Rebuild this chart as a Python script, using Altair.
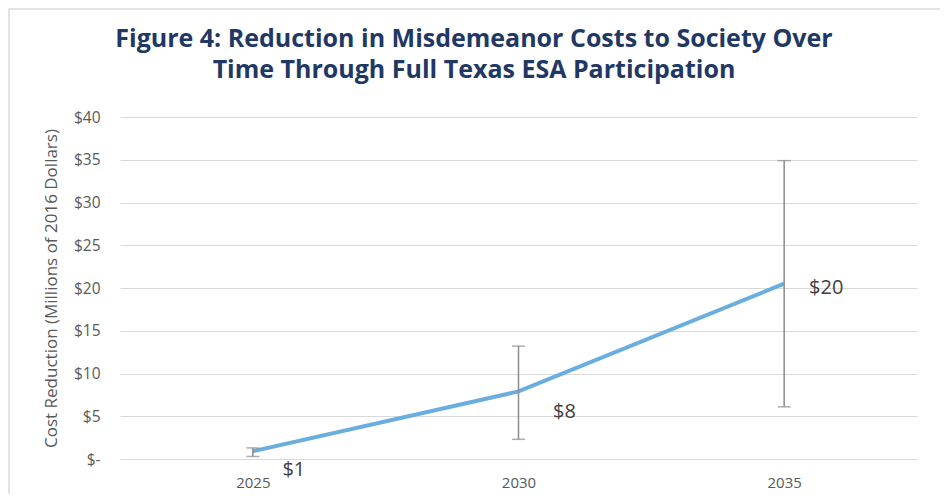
import altair as alt
import pandas as pd

years = ["2025", "2030", "2035"]
values = [0.9, 7.9, 20.5]
err_low = [0.3, 2.3, 6.1]
err_high = [1.3, 13.2, 34.9]
labels = ["$1", "$8", "$20"]
title_lines = "Figure 4: Reduction in Misdemeanor Costs to Society Over\nTime Through Full Texas ESA Participation"

df = pd.DataFrame({"year": years, "value": values, "lo": err_low, "hi": err_high, "label": labels})

x = alt.X("year:O", title=None, scale=alt.Scale(type="point", padding=0.5),
          axis=alt.Axis(labelAngle=0, labelFontSize=15, labelColor="#595959", labelFont="Open Sans",
                        domain=False, ticks=False, labelPadding=16, grid=False))
y = alt.Y("value:Q", title="Cost Reduction (Millions of 2016 Dollars)",
          scale=alt.Scale(domain=[0, 40], nice=False),
          axis=alt.Axis(values=[0, 5, 10, 15, 20, 25, 30, 35, 40],
                        labelExpr="datum.value == 0 ? '$-\u00a0\u00a0' : '$' + datum.value",
                        labelFontSize=15.5, labelColor="#595959", labelFont="Open Sans",
                        titleFontSize=17, titleColor="#595959", titleFont="Open Sans", titleFontWeight="normal",
                        titlePadding=13, labelPadding=20,
                        domain=False, ticks=False, grid=True, gridColor="#d9d9d9", gridWidth=1))

base = alt.Chart(df)

errbars = base.mark_rule(color="#8c8c8c", strokeWidth=1.5).encode(x=x, y=alt.Y("lo:Q"), y2="hi:Q")
cap_lo = base.mark_tick(color="#8c8c8c", size=13, thickness=1.5, orient="horizontal").encode(x=x, y="lo:Q")
cap_hi = base.mark_tick(color="#8c8c8c", size=13, thickness=1.5, orient="horizontal").encode(x=x, y="hi:Q")
line = base.mark_line(color="#6aaee0", strokeWidth=4).encode(x=x, y=y)

def lab(i, dx, dy):
    return base.transform_filter(alt.datum.year == years[i]).mark_text(
        fontSize=20, color="#404040", font="Open Sans", align="center", baseline="middle", dx=dx, dy=dy
    ).encode(x=x, y="value:Q", text="label:N")

t1 = lab(0, 41, 19)
t2 = lab(1, 46, 21)
t3 = lab(2, 42, 4)

frame = alt.Chart(alt.Data(values=[{}]))
left = frame.mark_rule(color="#e3e3e3", strokeWidth=2).encode(x=alt.value(-111), y=alt.value(-109), y2=alt.value(380))
right = frame.mark_rule(color="#e3e3e3", strokeWidth=2).encode(x=alt.value(823), y=alt.value(-109), y2=alt.value(380))
top = frame.mark_rule(color="#e3e3e3", strokeWidth=2).encode(x=alt.value(-111), x2=alt.value(823), y=alt.value(-108))
title = frame.mark_text(
    text=title_lines, lineBreak="\n", font="Open Sans", fontSize=25, fontWeight="bold", color="#1f3864",
    align="center", baseline="alphabetic", lineHeight=31
).encode(x=alt.value(354), y=alt.value(-70))

chart = alt.layer(left, right, top, title, line, errbars, cap_lo, cap_hi, t1, t2, t3).properties(
    width=797, height=342,
    background="white",
    autosize=alt.AutoSizeParams(type="none"),
    padding={"left": 112, "top": 109, "right": 23, "bottom": 35},
).configure_view(strokeWidth=0, stroke="transparent")

chart.save("out.html", embed_options={"renderer": "svg", "actions": False})
